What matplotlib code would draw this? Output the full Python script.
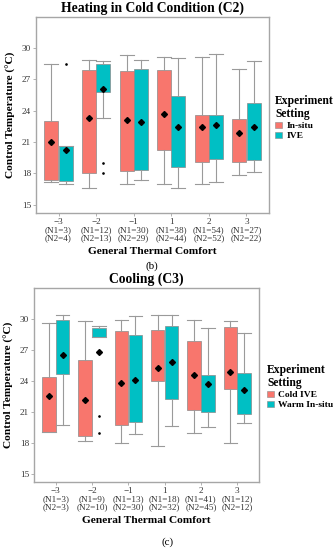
import matplotlib
matplotlib.use("Agg")
import matplotlib.pyplot as plt
from matplotlib.patches import Patch

plt.rcParams['font.family'] = ['Liberation Serif', 'DejaVu Serif']

# ---------------- data ----------------
comfort = ["\u22123", "\u22122", "\u22121", "1", "2", "3"]
c2_n1 = [3, 12, 30, 38, 54, 27]
c2_n2 = [4, 13, 29, 44, 52, 22]
c3_n1 = [3, 9, 13, 18, 41, 12]
c3_n2 = [3, 10, 30, 32, 45, 12]

# Heating (C2): In-situ
c2_a_lo = [17.2, 16.6, 17.0, 17.0, 17.0, 17.8]
c2_a_q1 = [17.4, 18.0, 18.2, 20.2, 19.1, 19.1]
c2_a_q3 = [23.0, 27.9, 27.8, 27.9, 23.6, 23.2]
c2_a_hi = [28.5, 28.8, 29.3, 29.1, 29.1, 28.0]
c2_a_mean = [21.0, 23.3, 23.1, 23.7, 22.4, 21.9]
c2_a_out = [[], [], [], [], [], []]
# Heating (C2): IVE
c2_b_lo = [17.0, 23.3, 17.4, 16.6, 17.2, 18.1]
c2_b_q1 = [17.3, 25.8, 18.3, 18.6, 19.4, 19.3]
c2_b_q3 = [20.6, 28.5, 28.0, 25.4, 23.6, 24.7]
c2_b_hi = [20.6, 28.7, 28.8, 29.0, 29.4, 28.7]
c2_b_mean = [20.2, 26.1, 22.9, 22.4, 22.6, 22.4]
c2_b_out = [[28.5], [19.0, 18.0], [], [], [], []]

# Cooling (C3): Cold IVE
c3_a_lo = [19.0, 18.2, 18.0, 17.7, 18.9, 18.0]
c3_a_q1 = [19.0, 18.6, 19.7, 24.0, 21.2, 23.2]
c3_a_q3 = [24.3, 26.0, 28.8, 28.9, 27.8, 29.2]
c3_a_hi = [29.6, 29.8, 29.9, 30.3, 29.9, 29.8]
c3_a_mean = [22.5, 22.1, 23.8, 25.2, 24.5, 24.8]
c3_a_out = [[], [], [], [], [], []]
# Cooling (C3): Warm In-situ
c3_b_lo = [19.7, 28.2, 18.8, 19.6, 19.5, 19.9]
c3_b_q1 = [24.6, 28.2, 20.0, 22.2, 21.0, 20.8]
c3_b_q3 = [29.9, 29.1, 28.4, 29.3, 24.5, 24.7]
c3_b_hi = [30.3, 29.3, 30.2, 30.3, 29.1, 28.6]
c3_b_mean = [26.5, 26.8, 24.1, 25.8, 23.7, 23.1]
c3_b_out = [[], [20.6, 18.9], [], [], [], []]

RED = "#F8766D"
TEAL = "#00BFC4"
FRAME = "#a6a6a6"
TXT = "#333333"


def stats(lo, q1, q3, hi, mean, out):
    res = []
    for i in range(len(lo)):
        res.append(dict(whislo=lo[i], q1=q1[i], med=q1[i], q3=q3[i],
                        whishi=hi[i], mean=mean[i], fliers=out[i]))
    return res


def panel(ax, sa, sb, n1, n2, title, colors):
    w = 0.37
    off = 0.19
    for st, sign, col in ((sa, -1, colors[0]), (sb, 1, colors[1])):
        pos = [i + sign * off for i in range(len(st))]
        ax.bxp(st, positions=pos, widths=w, patch_artist=True,
               showmeans=True, showfliers=True,
               boxprops=dict(facecolor=col, edgecolor="#8a8a8a", linewidth=0.5),
               whiskerprops=dict(color="#9a9a9a", linewidth=0.8),
               capprops=dict(color="#9a9a9a", linewidth=0.8),
               medianprops=dict(linewidth=0),
               meanprops=dict(marker="D", markerfacecolor="black",
                              markeredgecolor="black", markersize=3.0),
               flierprops=dict(marker="o", markerfacecolor="black",
                               markeredgecolor="black", markersize=0.9),
               capwidths=w, zorder=2)
    ax.set_xlim(-0.6, 5.6)
    ax.set_ylim(14.2, 32.95)
    ax.set_yticks([15, 18, 21, 24, 27, 30])
    ax.set_xticks(range(6))
    ax.set_xticklabels([f"{c}\n(N1={a})\n(N2={b})" for c, a, b in zip(comfort, n1, n2)],
                       linespacing=1.0)
    ax.tick_params(axis="both", labelsize=6.6, colors=FRAME, labelcolor=TXT,
                   length=2, width=0.6, pad=1.5)
    for s in ax.spines.values():
        s.set_color(FRAME)
        s.set_linewidth(1.0)
    ax.set_title(title, fontsize=9.8, fontweight="bold", pad=4)
    ax.set_xlabel("General Thermal Comfort", fontsize=8.2, fontweight="bold", labelpad=4)
    ax.set_ylabel("Control Temperature (\u00b0C)", fontsize=8.2, fontweight="bold", labelpad=4)
    handles = [Patch(facecolor=colors[0], edgecolor="#8a8a8a", linewidth=0.4),
               Patch(facecolor=colors[1], edgecolor="#8a8a8a", linewidth=0.4)]
    return handles


def legend(fig, handles, labels, x, y):
    leg = fig.legend(handles, labels, loc="upper left",
                     bbox_to_anchor=(x / 333, 1 - y / 550), frameon=False,
                     title="Experiment\nSetting", alignment="left",
                     prop=dict(size=6.8, weight="bold"),
                     title_fontproperties=dict(size=8.4, weight="bold"),
                     handlelength=0.7, handleheight=0.7, handletextpad=0.5,
                     labelspacing=0.15, borderpad=0, borderaxespad=0)
    leg.get_title().set_linespacing(1.15)
    return leg


fig = plt.figure(figsize=(3.33, 5.5), dpi=100)
W, H = 333, 550

ax1 = fig.add_axes([36 / W, 1 - 213 / H, 233 / W, 196 / H])
h1 = panel(ax1, stats(c2_a_lo, c2_a_q1, c2_a_q3, c2_a_hi, c2_a_mean, c2_a_out),
           stats(c2_b_lo, c2_b_q1, c2_b_q3, c2_b_hi, c2_b_mean, c2_b_out),
           c2_n1, c2_n2, "Heating in Cold Condition (C2)", (RED, TEAL))
legend(fig, h1, ["In-situ", "IVE"], 275, 95)

ax2 = fig.add_axes([34 / W, 1 - 482 / H, 225 / W, 194 / H])
h2 = panel(ax2, stats(c3_a_lo, c3_a_q1, c3_a_q3, c3_a_hi, c3_a_mean, c3_a_out),
           stats(c3_b_lo, c3_b_q1, c3_b_q3, c3_b_hi, c3_b_mean, c3_b_out),
           c3_n1, c3_n2, "Cooling (C3)", (RED, TEAL))
legend(fig, h2, ["Cold IVE", "Warm In-situ"], 267, 364)

fig.text(152 / W, 1 - 266 / H, "(b)", ha="center", va="center", fontsize=8)
fig.text(168 / W, 1 - 542 / H, "(c)", ha="center", va="center", fontsize=8)

fig.savefig("out.png", dpi=100)
